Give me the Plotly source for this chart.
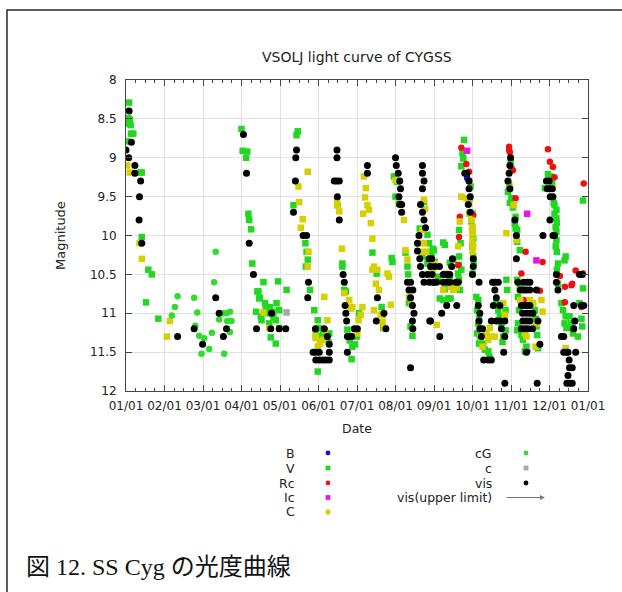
import plotly.graph_objects as go

# ---------------- data (x = months since 01/01, y = magnitude) ----------------
month_labels = ["01/01", "02/01", "03/01", "04/01", "05/01", "06/01", "07/01",
                "08/01", "09/01", "10/01", "11/01", "12/01", "01/01"]
mag_ticks = [8, 8.5, 9, 9.5, 10, 10.5, 11, 11.5, 12]

B_pts = [(8.86, 9.26), (8.91, 9.30), (10.40, 10.87), (10.42, 11.49)]

V_pts = [
    (0.08, 8.29), (0.06, 8.49), (0.10, 8.51), (0.08, 8.56), (0.12, 8.58), (0.13, 8.69), (0.19, 8.69),
    (0.03, 8.79), (0.36, 9.19), (0.41, 9.19), (0.41, 10.02), (0.58, 10.44), (0.67, 10.50), (0.52, 10.86),
    (0.84, 11.07),
    (3.00, 8.63), (3.03, 8.91), (3.12, 9.00), (3.15, 8.92), (3.18, 9.72), (3.20, 9.80), (3.25, 9.92),
    (3.28, 10.36), (3.57, 10.60), (3.44, 10.72), (3.48, 10.80),
    (3.41, 10.72), (3.46, 10.81), (3.61, 10.87), (3.74, 10.92), (3.91, 10.87), (3.95, 10.59), (4.17, 10.70),
    (3.38, 10.98), (3.50, 11.04), (3.63, 10.94), (3.81, 10.98), (3.98, 10.96), (3.89, 11.09), (3.72, 11.13),
    (3.76, 11.31), (3.89, 11.39), (3.98, 11.19), (3.52, 11.09), (3.83, 11.05), (3.67, 11.00),
    (4.46, 8.66), (4.43, 8.71), (4.35, 9.61), (4.66, 10.10), (4.69, 10.21), (4.72, 10.31), (4.67, 10.40),
    (4.78, 10.70), (4.89, 10.96), (4.98, 11.09), (4.93, 11.22), (4.98, 11.75), (5.11, 11.24), (5.28, 11.26),
    (5.06, 11.30), (5.26, 11.37), (5.02, 11.19),
    (5.49, 9.61), (5.62, 10.36), (5.62, 10.40), (5.67, 10.70), (5.71, 10.72), (5.75, 11.21), (5.81, 11.35),
    (5.88, 11.43), (5.86, 11.59), (5.95, 11.40), (5.99, 11.30), (6.05, 11.00),
    (6.40, 10.22), (6.51, 10.49), (6.64, 10.92), (6.66, 11.02), (6.68, 11.19), (6.92, 10.34), (6.90, 10.29),
    (6.96, 9.24), (7.00, 9.50), (7.05, 9.31), (7.09, 9.59),
    (7.26, 10.22), (7.31, 10.40), (7.33, 10.50), (7.35, 10.87), (7.39, 11.17), (7.44, 11.29),
    (7.74, 9.57), (7.63, 9.91), (7.83, 9.99), (7.87, 10.10), (7.91, 10.21), (7.94, 10.27), (7.97, 10.17),
    (7.70, 10.27), (7.83, 10.36),
    (8.24, 10.09), (8.28, 10.12), (8.00, 10.19), (8.41, 10.35), (8.50, 10.31), (8.02, 10.34), (7.96, 10.49),
    (8.11, 10.53), (8.65, 10.27), (8.65, 10.38), (8.63, 10.49), (8.71, 10.44), (8.41, 10.57), (8.50, 10.62),
    (8.28, 10.69), (8.37, 10.81), (8.43, 10.81), (8.15, 10.81), (8.24, 10.83), (8.67, 10.70), (8.65, 10.57),
    (8.78, 8.77), (8.74, 8.94), (8.76, 9.01), (8.71, 9.11), (8.95, 9.37), (8.93, 9.52), (9.00, 9.72),
    (8.97, 9.82), (9.00, 9.93), (9.02, 10.04), (9.00, 10.14), (9.02, 10.27), (9.03, 10.36), (9.00, 10.49),
    (8.65, 9.93), (8.69, 10.10),
    (9.10, 10.79), (9.15, 10.83), (9.12, 10.96), (9.17, 11.07), (9.15, 11.13), (9.12, 11.26), (9.19, 11.30),
    (9.17, 11.39), (9.28, 11.39), (9.32, 11.47), (9.41, 11.49), (9.44, 11.56), (9.62, 10.87), (9.67, 10.96),
    (9.71, 11.04), (9.75, 11.13), (9.80, 11.30), (9.78, 11.37), (9.88, 10.57), (9.90, 10.70), (9.86, 10.96),
    (9.84, 11.04), (9.86, 11.22),
    (9.99, 9.05), (10.01, 9.14), (9.95, 9.35), (9.92, 9.44), (10.01, 9.52), (9.97, 9.58), (10.05, 9.64),
    (10.12, 9.76), (10.10, 9.85), (10.12, 9.91), (10.16, 9.93), (10.16, 10.08), (10.23, 10.19),
    (10.16, 10.57), (10.23, 10.66), (10.18, 10.79), (10.21, 10.96), (10.18, 11.13), (10.16, 11.22),
    (10.27, 11.28), (10.31, 11.34), (10.40, 11.43), (10.36, 11.49), (10.49, 10.87), (10.57, 10.87),
    (10.62, 10.96), (10.64, 11.07), (10.66, 11.17), (10.68, 11.28), (10.70, 11.45),
    (10.96, 9.21), (11.02, 9.24), (10.88, 9.39), (11.07, 9.33), (11.11, 9.58), (11.13, 9.61), (11.18, 9.67),
    (11.13, 9.72), (11.18, 9.78), (11.19, 9.84), (11.16, 9.89), (11.18, 9.95), (11.18, 10.06), (11.16, 10.14),
    (11.19, 10.21), (11.22, 10.36), (11.19, 10.44), (11.22, 10.62),
    (11.31, 10.87), (11.35, 10.96), (11.42, 11.04), (11.39, 11.13), (11.44, 11.19), (11.52, 11.04),
    (11.56, 11.13), (11.59, 11.19), (11.61, 11.26), (11.74, 11.30), (11.87, 9.55), (11.87, 10.68),
    (11.83, 11.07), (11.85, 11.17), (11.78, 10.87), (11.42, 10.27), (11.39, 10.32),
]

Rc_pts = [
    (8.71, 8.87), (8.84, 9.08), (8.91, 9.18), (8.67, 9.76), (8.65, 10.02), (8.63, 10.38), (9.02, 9.74),
    (9.95, 8.86), (9.95, 8.90), (9.97, 8.93), (10.05, 9.16), (10.12, 9.52), (10.38, 10.21),
    (10.27, 10.49), (10.33, 10.83), (10.27, 10.85), (10.75, 10.71), (10.82, 10.34),
    (10.96, 8.89), (11.01, 9.05), (11.09, 9.12), (11.13, 9.25),
    (11.27, 10.52), (11.40, 10.66), (11.57, 10.64), (11.59, 10.62), (11.68, 10.45), (11.87, 10.49),
    (11.40, 10.86), (11.83, 10.92), (11.89, 9.33),
]

Ic_pts = [(8.86, 8.91), (10.42, 9.72), (10.66, 10.32)]

C_pts = [
    (0.03, 9.10), (0.10, 9.19), (0.35, 10.10), (0.41, 10.30), (1.14, 11.10), (1.06, 11.30),
    (3.57, 10.99), (3.72, 11.19),
    (4.48, 9.37), (4.50, 9.57), (4.72, 9.18), (4.59, 9.79), (4.54, 9.90), (4.74, 10.21), (4.72, 10.40),
    (4.92, 11.30), (5.04, 11.39), (5.11, 11.34), (5.17, 11.22), (5.23, 11.09), (5.15, 10.79), (4.98, 11.43),
    (4.93, 11.32), (5.48, 9.54), (5.49, 9.61), (5.54, 9.69), (5.61, 10.17), (5.67, 10.74), (5.80, 10.83),
    (5.84, 10.94), (5.88, 10.92), (6.04, 11.09), (6.10, 11.02), (6.14, 10.92), (6.01, 11.26),
    (6.18, 9.24), (6.23, 9.39), (6.21, 9.51), (6.27, 9.61), (6.16, 9.72), (6.31, 9.67), (6.36, 9.84),
    (6.40, 10.04), (6.44, 10.40), (6.40, 10.44), (6.49, 10.62), (6.53, 10.44), (6.57, 10.70), (6.44, 10.96),
    (6.62, 11.02), (6.66, 11.11), (6.79, 10.49), (6.83, 10.53), (6.88, 10.89), (6.70, 11.19),
    (7.00, 9.29), (7.22, 9.80), (7.26, 10.19), (7.31, 10.31), (7.35, 10.79), (7.42, 10.89), (7.65, 10.10),
    (7.70, 10.21), (7.74, 9.54), (7.77, 9.66), (7.74, 10.10), (7.80, 10.21), (7.70, 9.93),
    (7.94, 10.44), (8.02, 10.36), (8.31, 10.49), (8.43, 10.66), (8.50, 10.70), (8.59, 10.67), (8.07, 11.15),
    (8.24, 10.70), (8.63, 10.14), (8.67, 9.82),
    (8.71, 9.50), (8.84, 9.52), (8.91, 9.59), (8.91, 9.72), (8.97, 9.80), (9.00, 9.89), (9.00, 9.97),
    (9.00, 10.06), (9.02, 10.14), (9.00, 10.21),
    (9.21, 11.30), (9.26, 11.43), (9.36, 11.26), (9.41, 11.34), (9.49, 11.30), (9.58, 11.30), (9.45, 11.19),
    (9.80, 10.87), (9.84, 11.02),
    (9.97, 9.39), (10.07, 9.61), (9.88, 9.97), (10.14, 10.06), (10.23, 10.70), (10.24, 10.83), (10.36, 11.26),
    (10.40, 11.30), (10.49, 10.83), (10.57, 10.87), (10.66, 11.13), (10.79, 10.83), (10.82, 10.98),
    (10.64, 11.43), (11.09, 9.39), (11.42, 11.45),
]

cG_pts = [
    (1.19, 11.03), (1.27, 10.92), (1.34, 10.78), (1.77, 10.80), (1.85, 10.99), (1.80, 11.16), (1.90, 11.29),
    (2.03, 11.32), (1.96, 11.52), (2.16, 11.46), (2.23, 11.25), (2.33, 10.21), (2.29, 10.60), (2.42, 11.08),
    (2.53, 11.00), (2.61, 11.00), (2.70, 10.98), (2.74, 11.10), (2.63, 11.10), (2.55, 11.52), (2.70, 11.24),
]

c_pts = [(4.17, 10.99)]

vis_pts = [
    (0.08, 8.4), (0.14, 8.8), (0.00, 8.9), (0.07, 9.0), (0.23, 9.1), (0.23, 9.2), (0.38, 9.3), (0.35, 9.5),
    (0.34, 9.8), (0.41, 10.1),
    (1.34, 11.3), (1.77, 11.2), (1.99, 11.4), (2.33, 10.8), (2.42, 11.0), (2.53, 11.3), (2.61, 11.2),
    (3.05, 8.7), (3.13, 9.2), (3.20, 10.1), (3.31, 10.5), (3.39, 11.2), (3.78, 11.0), (3.76, 11.2),
    (3.98, 11.2), (4.15, 11.2),
    (4.43, 8.9), (4.41, 9.0), (4.40, 9.3), (4.35, 9.7), (4.60, 10.0), (4.69, 10.0), (4.74, 10.6), (4.72, 10.8),
    (4.92, 11.2), (5.23, 11.3), (5.15, 11.2), (5.28, 11.4), (4.86, 11.5), (4.93, 11.5), (5.02, 11.5),
    (5.28, 11.5), (4.93, 11.6), (5.02, 11.6), (5.11, 11.6), (5.19, 11.6), (5.28, 11.6),
    (5.48, 8.9), (5.48, 9.0), (5.41, 9.3), (5.47, 9.3), (5.54, 9.3), (5.49, 9.5), (5.54, 9.8), (5.64, 10.5),
    (5.67, 10.6), (5.69, 10.9), (5.71, 11.0), (5.73, 11.1), (5.75, 11.3), (5.81, 11.3), (5.86, 11.3),
    (5.75, 11.5), (5.93, 11.2), (6.01, 11.2),
    (6.27, 9.1), (6.27, 9.2), (6.53, 10.8), (6.50, 11.1), (6.75, 11.2), (6.70, 11.0),
    (7.00, 9.0), (7.02, 9.1), (7.07, 9.2), (7.11, 9.3), (7.13, 9.4), (7.09, 9.5), (7.16, 9.6), (7.11, 9.6),
    (7.16, 9.7),
    (7.70, 9.1), (7.70, 9.2), (7.74, 9.3), (7.70, 9.4), (7.65, 9.6), (7.70, 9.7), (7.74, 9.8), (7.78, 9.9),
    (7.61, 10.0), (7.57, 10.1), (7.57, 10.2), (7.63, 10.3), (7.65, 10.4), (7.70, 10.5), (7.74, 10.6),
    (7.31, 10.6), (7.39, 10.6), (7.45, 10.7), (7.39, 10.8), (7.44, 10.9), (7.48, 11.0), (7.44, 11.1),
    (7.45, 11.2), (7.39, 11.7), (7.35, 10.7),
    (7.87, 10.3), (7.91, 10.4), (7.95, 10.5), (7.99, 10.6), (7.88, 10.6), (7.91, 11.1), (7.83, 10.5),
    (7.94, 10.3), (8.02, 10.4), (7.98, 10.6), (8.07, 10.6), (8.14, 10.4), (8.24, 10.5), (8.33, 10.5),
    (8.41, 10.5), (8.46, 10.4), (8.48, 10.3), (8.24, 10.6), (8.33, 10.6), (8.41, 10.6), (8.57, 10.6),
    (8.63, 10.6), (8.20, 11.0), (8.15, 11.3), (8.33, 10.9), (8.59, 10.9), (7.89, 11.1),
    (8.80, 9.2), (8.86, 9.2), (8.91, 9.3), (8.91, 9.4), (8.94, 9.5), (8.89, 9.6), (8.94, 9.7), (9.02, 10.3),
    (9.02, 10.4), (9.00, 10.5),
    (9.17, 10.6), (9.52, 10.6), (9.58, 10.6), (9.67, 10.6), (9.58, 10.7), (9.62, 10.8), (9.71, 10.9),
    (9.54, 10.9), (9.15, 10.9), (9.19, 11.0), (9.17, 11.1), (9.19, 11.2), (9.26, 11.2), (9.23, 11.3),
    (9.29, 11.6), (9.41, 11.6), (9.49, 11.6), (9.49, 11.1), (9.62, 11.1), (9.71, 11.1), (9.75, 11.2),
    (9.84, 11.1), (9.84, 11.3), (9.81, 11.5), (9.84, 11.9),
    (9.99, 9.0), (9.97, 9.1), (9.95, 9.2), (9.92, 9.3), (9.97, 9.4), (10.10, 9.8), (10.14, 10.0),
    (10.14, 10.3),
    (10.18, 10.6), (10.33, 10.6), (10.42, 10.6), (10.49, 10.6), (10.24, 10.7), (10.33, 10.7), (10.40, 10.7),
    (10.49, 10.7), (10.27, 10.9), (10.33, 10.9), (10.42, 10.9), (10.49, 10.9), (10.30, 11.0), (10.40, 11.0),
    (10.49, 11.0), (10.57, 11.0), (10.31, 11.1), (10.40, 11.1), (10.49, 11.1), (10.27, 11.2), (10.36, 11.2),
    (10.44, 11.2), (10.56, 11.2), (10.66, 10.7), (10.70, 11.1), (10.75, 11.4), (10.68, 11.9), (10.40, 11.5),
    (10.92, 9.3), (10.99, 9.3), (10.94, 9.4), (11.01, 9.4), (11.07, 9.4), (11.02, 9.5), (11.09, 9.5),
    (11.01, 9.8), (11.09, 10.0), (11.13, 10.0), (10.83, 10.0), (11.18, 10.5), (11.18, 10.6),
    (11.22, 10.7), (11.31, 11.3), (11.37, 11.3), (11.37, 11.5), (11.44, 11.5), (11.48, 11.5), (11.51, 11.6),
    (11.52, 11.7), (11.59, 11.7), (11.48, 11.8), (11.45, 11.9), (11.52, 11.9), (11.59, 11.9), (11.63, 10.9),
    (11.66, 11.1), (11.63, 11.2), (11.68, 11.5), (11.78, 10.5), (11.85, 10.5), (11.89, 10.9), (11.83, 10.9),
]

series = [
    ("B", B_pts, "circle", "#1414c8"),
    ("V", V_pts, "square", "#22d622"),
    ("Rc", Rc_pts, "circle", "#ec1212"),
    ("Ic", Ic_pts, "square", "#ea14ea"),
    ("C", C_pts, "square", "#d6d000"),
    ("cG", cG_pts, "circle", "#30dc30"),
    ("c", c_pts, "square", "#a8a8a8"),
    ("vis", vis_pts, "circle", "#000000"),
]

# ---------------- layout geometry ----------------
W, H = 622, 592
ML, MR, MT, MB = 126, 34, 80, 201
PW = W - ML - MR
PH = H - MT - MB


def px(x):
    return (x - ML) / PW


def py(y):
    return (H - MB - y) / PH


FONT = "DejaVu Sans, Liberation Sans, sans-serif"

fig = go.Figure()
for name, pts, sym, col in series:
    fig.add_trace(go.Scatter(
        x=[p[0] for p in pts], y=[p[1] for p in pts], mode="markers", name=name,
        marker=dict(symbol=sym, size=7 if name == "vis" else 6.5, color=col, line=dict(width=0)),
        showlegend=False, hoverinfo="x+y",
    ))

axis_common = dict(
    ticks="inside", tickcolor="#444", ticklen=6, showline=True, linecolor="#444", linewidth=1,
    mirror="ticks", showgrid=True, gridcolor="#e2e2e2", gridwidth=1, zeroline=False,
    tickfont=dict(family=FONT, size=12, color="#222"),
)

fig.update_xaxes(
    range=[0, 12], tickmode="array", tickvals=list(range(13)), ticktext=month_labels,
    minor=dict(tickmode="array", tickvals=[i + f for i in range(12) for f in (0.25, 0.5, 0.75)],
               ticks="inside", ticklen=3, tickcolor="#444", showgrid=False),
    ticklabelstandoff=4, **axis_common,
)
fig.update_yaxes(
    range=[12, 8], tickmode="array", tickvals=mag_ticks, ticktext=[f"{v:g}" for v in mag_ticks],
    ticklabelstandoff=6, **axis_common,
)

annotations = [
    dict(text="VSOLJ light curve of CYGSS", x=px(357), y=py(57), font=dict(size=14)),
    dict(text="Date", x=px(357), y=py(428), font=dict(size=12.5)),
    dict(text="Magnitude", x=px(60), y=py(236), textangle=-90, font=dict(size=13)),
]

shapes = [
    dict(type="rect", xref="paper", yref="paper", x0=px(7), x1=px(700), y0=py(700), y1=py(10),
         line=dict(color="#2a2a2a", width=1.5), layer="below"),
]

rows = [453, 468, 483, 497.5, 512]
left_items = series[:5]
right_items = series[5:]
for (name, pts, sym, col), yy in zip(left_items, rows):
    annotations.append(dict(text=name, x=px(297), y=py(yy), xanchor="right", font=dict(size=12.5)))
    r = 2.4
    shapes.append(dict(type="circle" if sym == "circle" else "rect", xref="paper", yref="paper",
                       x0=px(328 - r), x1=px(328 + r), y0=py(yy + r), y1=py(yy - r),
                       fillcolor=col, line=dict(width=0)))
for (name, pts, sym, col), yy in zip(right_items, rows):
    annotations.append(dict(text=name, x=px(494), y=py(yy), xanchor="right", font=dict(size=12.5)))
    r = 2.4
    shapes.append(dict(type="circle" if sym == "circle" else "rect", xref="paper", yref="paper",
                       x0=px(526 - r), x1=px(526 + r), y0=py(yy + r), y1=py(yy - r),
                       fillcolor=col, line=dict(width=0)))
annotations.append(dict(text="vis(upper limit)", x=px(494), y=py(rows[3]), xanchor="right",
                        font=dict(size=12.5)))
annotations.append(dict(text="", x=px(545), y=py(rows[3]), ax=-40, ay=0, showarrow=True,
                        arrowhead=2, arrowsize=1, arrowwidth=1, arrowcolor="#777"))

annotations.append(dict(text="図 12. SS Cyg の光度曲線", x=px(24), y=py(567), xanchor="left",
                        font=dict(size=24, family="Liberation Serif, Noto Sans CJK JP, serif", color="#111")))

for a in annotations:
    a.setdefault("xref", "paper")
    a.setdefault("yref", "paper")
    a.setdefault("showarrow", False)
    a.setdefault("xanchor", "center")
    a.setdefault("yanchor", "middle")
    f = a.setdefault("font", {})
    f.setdefault("family", FONT)
    f.setdefault("color", "#222")

fig.update_layout(
    width=W, height=H, margin=dict(l=ML, r=MR, t=MT, b=MB, pad=0),
    paper_bgcolor="white", plot_bgcolor="white",
    annotations=annotations, shapes=shapes, showlegend=False,
)

fig.write_html("out.html")
